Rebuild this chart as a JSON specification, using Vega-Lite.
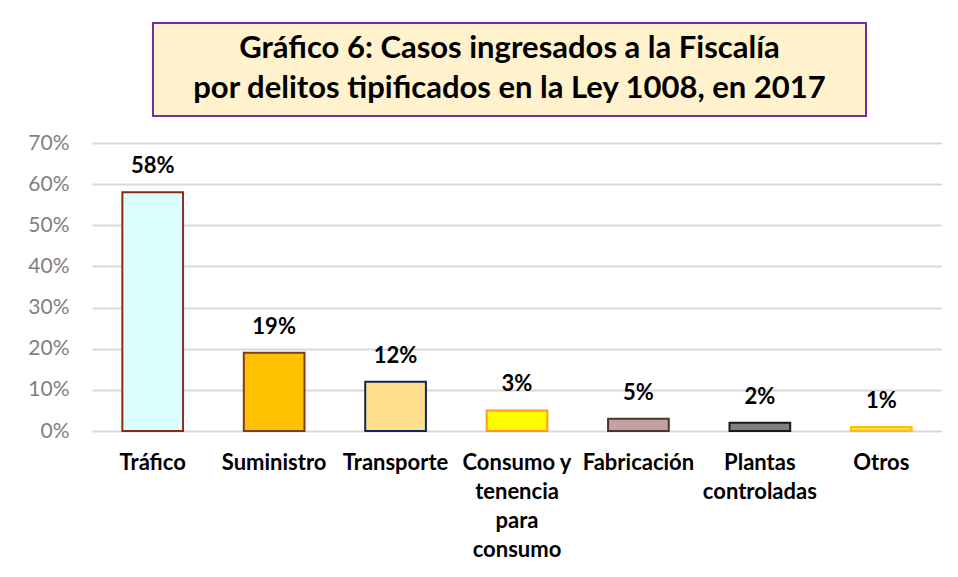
{
  "$schema": "https://vega.github.io/schema/vega-lite/v6.json",
  "padding": {"left": 27, "top": 22, "right": 0, "bottom": 0},
  "background": "white",
  "config": {"font": "Lato", "view": {"stroke": null}},
  "spacing": 15,
  "datasets": {
    "titulo": [{"texto": "Gráfico 6: Casos ingresados a la Fiscalía\npor delitos tipificados en la Ley 1008, en 2017"}],
    "casos": [
      {"categoria": "Tráfico", "valor": 0.58, "etiqueta": "58%"},
      {"categoria": "Suministro", "valor": 0.19, "etiqueta": "19%"},
      {"categoria": "Transporte", "valor": 0.12, "etiqueta": "12%"},
      {"categoria": "Consumo y\ntenencia\npara\nconsumo", "valor": 0.05, "etiqueta": "3%"},
      {"categoria": "Fabricación", "valor": 0.03, "etiqueta": "5%"},
      {"categoria": "Plantas\ncontroladas", "valor": 0.02, "etiqueta": "2%"},
      {"categoria": "Otros", "valor": 0.01, "etiqueta": "1%"}
    ]
  },
  "vconcat": [
    {
      "spacing": 0,
      "hconcat": [
        {"width": 60, "height": 93, "data": {"name": "titulo"}, "view": {"fill": "white", "stroke": "white", "strokeWidth": 0}, "mark": {"type": "point", "opacity": 0}, "encoding": {}},
        {
          "width": 713, "height": 93,
          "data": {"name": "titulo"},
          "view": {"fill": "#FFF2CC", "stroke": "#7030A0", "strokeWidth": 2},
          "mark": {"type": "text", "fontSize": 31, "fontWeight": "bold", "lineBreak": "\n", "lineHeight": 40, "color": "black", "baseline": "middle", "align": "center", "dy": -21},
          "encoding": {"text": {"field": "texto"}}
        }
      ]
    },
    {
      "width": 850, "height": 288,
      "data": {"name": "casos"},
      "encoding": {
        "x": {"field": "categoria", "type": "nominal", "sort": null,
              "scale": {"paddingInner": 0.5, "paddingOuter": 0.25},
              "axis": {"title": null, "labelAngle": 0, "labelFontSize": 22, "labelFontWeight": "bold", "labelColor": "black", "ticks": false, "domain": false, "labelPadding": 21, "labelLineHeight": 29, "labelLimit": 0, "labelExpr": "split(datum.label, '\\n')"}},
        "y": {"field": "valor", "type": "quantitative",
              "scale": {"domain": [0, 0.7]},
              "axis": {"title": null, "format": ".0%", "values": [0, 0.1, 0.2, 0.3, 0.4, 0.5, 0.6, 0.7], "labelFontSize": 21, "labelColor": "#7F7F7F", "ticks": false, "domain": false, "labelPadding": 23, "gridColor": "#D9D9D9", "gridWidth": 2}}
      },
      "layer": [
        {
          "mark": {"type": "bar", "strokeWidth": 2},
          "encoding": {
            "fill": {"field": "categoria", "type": "nominal", "legend": null,
                     "scale": {"domain": ["Tráfico", "Suministro", "Transporte", "Consumo y\ntenencia\npara\nconsumo", "Fabricación", "Plantas\ncontroladas", "Otros"],
                               "range": ["#D9FFFF", "#FFC000", "#FFDF8C", "#FFFF00", "#C4A1A1", "#808080", "#FFD966"]}},
            "stroke": {"field": "categoria", "type": "nominal", "legend": null,
                     "scale": {"domain": ["Tráfico", "Suministro", "Transporte", "Consumo y\ntenencia\npara\nconsumo", "Fabricación", "Plantas\ncontroladas", "Otros"],
                               "range": ["#8B2A1A", "#7B3F1A", "#10265E", "#FF9A1F", "#4A3535", "#1A1A1A", "#FFC000"]}}
          }
        },
        {
          "mark": {"type": "rule", "color": "#C00000", "strokeWidth": 2},
          "encoding": {"y": {"datum": 0}}
        },
        {
          "mark": {"type": "text", "dy": -26, "fontSize": 22, "fontWeight": "bold", "color": "black", "baseline": "middle"},
          "encoding": {"text": {"field": "etiqueta"}}
        }
      ]
    }
  ]
}
